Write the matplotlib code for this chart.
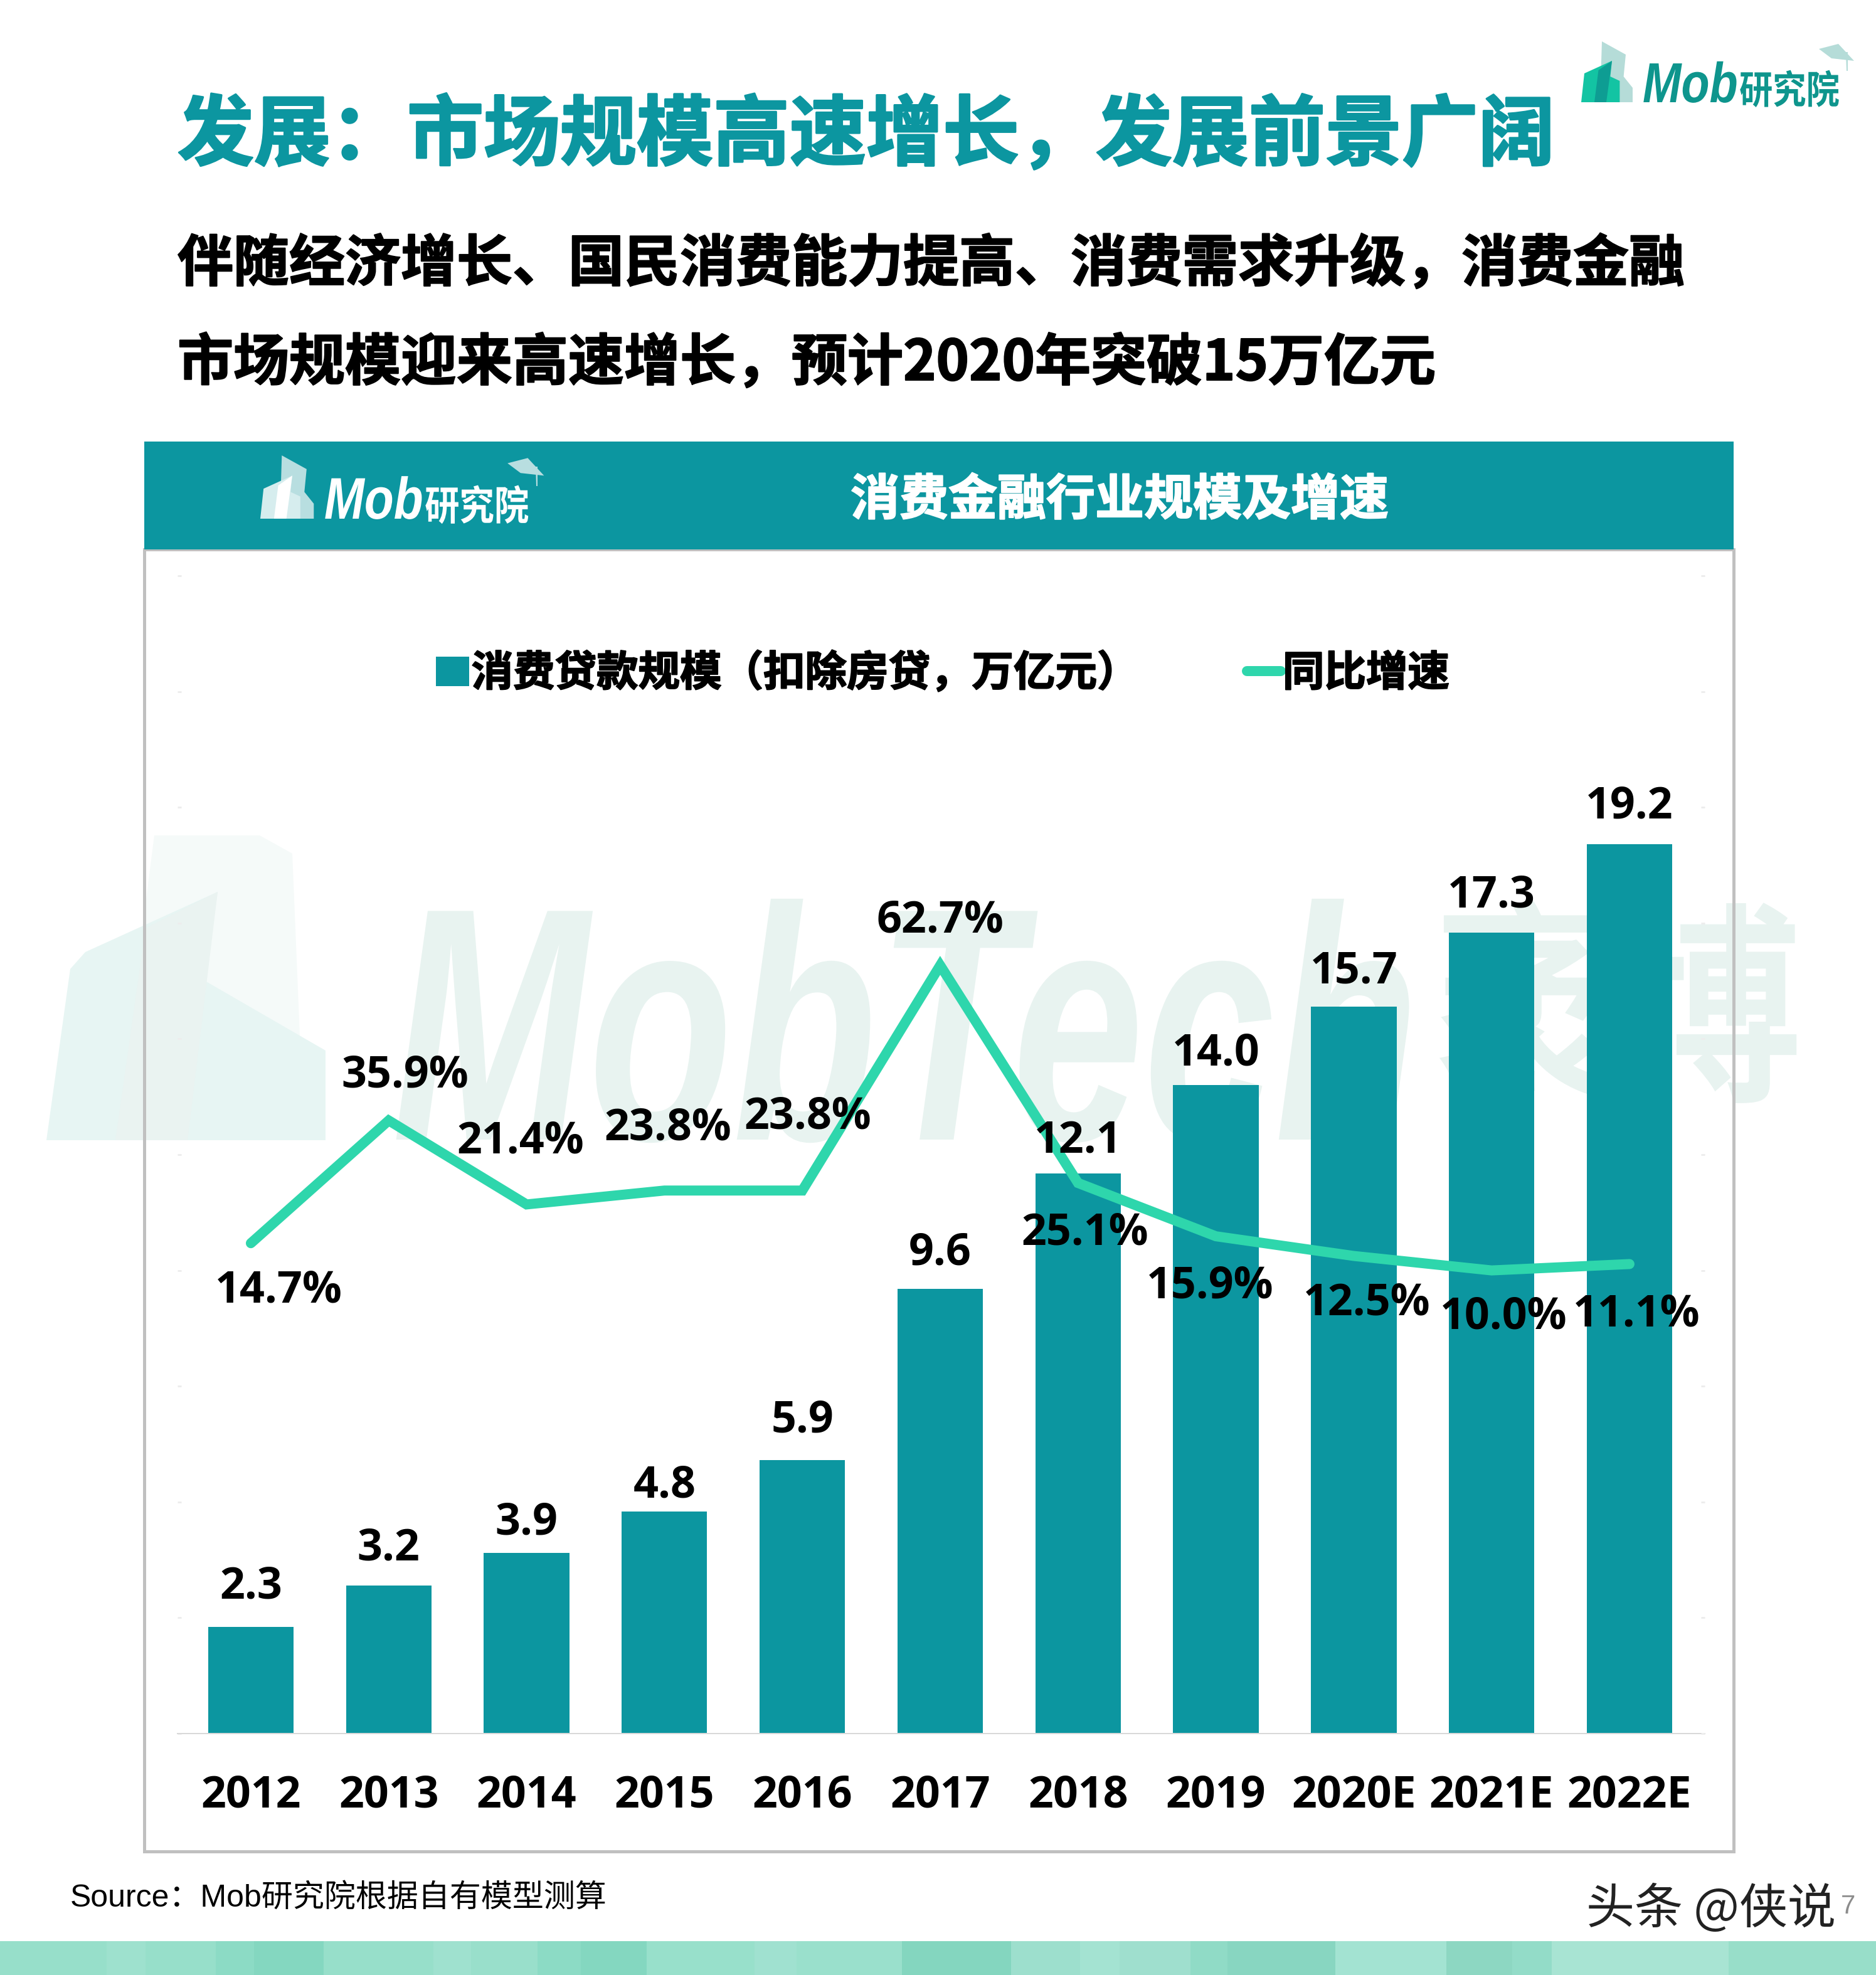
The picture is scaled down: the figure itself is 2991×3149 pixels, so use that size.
import matplotlib
matplotlib.use("Agg")
import matplotlib.pyplot as plt
from matplotlib.lines import Line2D
from matplotlib.patches import Patch, Polygon, Rectangle
from matplotlib.patheffects import AbstractPathEffect, withStroke
from matplotlib.transforms import Affine2D

# Datos
anios = ["2012", "2013", "2014", "2015", "2016", "2017", "2018", "2019", "2020E", "2021E", "2022E"]
escala = [2.3, 3.2, 3.9, 4.8, 5.9, 9.6, 12.1, 14.0, 15.7, 17.3, 19.2]
crecimiento = [14.7, 35.9, 21.4, 23.8, 23.8, 62.7, 25.1, 15.9, 12.5, 10.0, 11.1]

# Textos (signos de ancho completo escritos con su codigo)
titulo = "发展\uff1a市场规模高速增长\uff0c发展前景广阔"
subtitulo_1 = "伴随经济增长、国民消费能力提高、消费需求升级\uff0c消费金融"
subtitulo_2 = "市场规模迎来高速增长\uff0c预计2020年突破15万亿元"
titulo_grafico = "消费金融行业规模及增速"
leyenda_barras = "消费贷款规模\uff08扣除房贷\uff0c万亿元\uff09"
leyenda_linea = "同比增速"
fuente = "Source\uff1aMob研究院根据自有模型测算"

# Colores y tamaño
TEAL = "#0c96a0"
VERDE = "#2ed6ac"
ANCHO, ALTO = 2991, 3149
DPI = 100
CJK = ["Noto Sans CJK SC", "DejaVu Sans"]
LATINA = ["Open Sans", "Noto Sans CJK SC"]

# Desplazamiento de etiquetas en puntos
despl_pct = [(32, -55), (19, 51), (-7, 72), (4, 71), (6, 84), (0, 51), (8, -58), (-7, -58), (15, -55), (14, -54), (8, -58)]
despl_barras = [46, 42, 34, 29, 45, 41, 37, 36, 40, 42, 43]

# Franja inferior: (inicio, fin, color)
franja = [
    (0, 170, "#97dfca"), (170, 232, "#9ee1ce"), (232, 344, "#97dfca"), (344, 405, "#8cdbc5"),
    (405, 516, "#84d7c0"), (516, 691, "#97dfca"), (691, 751, "#9fe1cf"), (751, 857, "#99dfcb"),
    (857, 926, "#8cdbc5"), (926, 1031, "#84d7c0"), (1031, 1203, "#98e0cb"), (1203, 1270, "#a0e1d0"),
    (1270, 1438, "#9ae0cc"), (1438, 1612, "#84d6bf"), (1612, 1722, "#9ddfcd"), (1722, 1785, "#a4e3d2"),
    (1785, 1898, "#9fdfce"), (1898, 1957, "#90dbc6"), (1957, 2129, "#88d6c1"), (2129, 2306, "#a3e3d2"),
    (2306, 2411, "#8dd7c2"), (2411, 2474, "#93dcc8"), (2474, 2756, "#a8e4d3"), (2756, 2991, "#98dec9"),
]

fig = plt.figure(figsize=(ANCHO / DPI, ALTO / DPI), dpi=DPI, facecolor="white")


def pt(px):
    # pixeles a puntos
    return px * 72 / DPI


class Estrecho(AbstractPathEffect):
    # comprime el texto en horizontal, la fuente original es mas estrecha
    def __init__(self, sx, x0):
        self.sx = sx
        self.x0 = x0

    def draw_path(self, renderer, gc, tpath, affine, rgbFace=None):
        t = affine + Affine2D().translate(-self.x0, 0).scale(self.sx, 1).translate(self.x0, 0)
        renderer.draw_path(gc, tpath, t, rgbFace)


# Capa de fondo en coordenadas de pixel
fondo = fig.add_axes([0, 0, 1, 1], zorder=0)
fondo.set_xlim(0, ANCHO)
fondo.set_ylim(ALTO, 0)
fondo.axis("off")


def poligono(puntos, color, z=1):
    fondo.add_patch(Polygon(puntos, closed=True, facecolor=color, edgecolor="none", zorder=z))


# Marca de agua
poligono([(246, 1332), (414, 1332), (466, 1361), (480, 1700), (519, 1818), (184, 1818)], "#f5faf9")
poligono([(74, 1818), (112, 1545), (136, 1518), (347, 1422), (327, 1564), (519, 1675), (519, 1818)], "#e7f5f3")
poligono([(184, 1818), (232, 1480), (347, 1422), (299, 1818)], "#eaf3f1")
fondo.text(625, 1817, "MobTech", fontsize=pt(530), family=["Liberation Sans"], style="italic", weight="bold",
           color="#e8f3f0", va="baseline", ha="left", zorder=1, path_effects=[Estrecho(0.71, 625)])
fondo.text(2580, 1630, "袤博", fontsize=pt(340), family=CJK, weight="bold", color="#e8f3f0",
           va="center", ha="center", zorder=1, path_effects=[Estrecho(0.86, 2580)])

# Marco y cabecera del grafico
fondo.add_patch(Rectangle((230, 876), 2534, 2076, facecolor="none", edgecolor="#c0c0c0", linewidth=pt(5), zorder=2))
fondo.add_patch(Rectangle((230, 704), 2534, 172, facecolor=TEAL, edgecolor="none", zorder=3))

# Franja inferior
for x0, x1, color in franja:
    fondo.add_patch(Rectangle((x0, 3095), x1 - x0, 54, facecolor=color, edgecolor="none", zorder=2))


def logo(x0, y0, esc, c_atras, c_frente, c_medio, c_gorro, c_texto):
    def p(lista):
        return [(x0 + dx * esc, y0 - dy * esc) for dx, dy in lista]

    poligono(p([(33, 97), (71, 76), (67.6, 41), (82, 23), (82, 0), (30, 0)]), c_atras, 4)
    poligono(p([(0, 0), (5, 46), (49, 66), (46.4, 41), (61.4, 34), (61.4, 0)]), c_frente, 5)
    poligono(p([(21, 0), (27.5, 51), (49, 66), (40, 0)]), c_medio, 6)
    poligono(p([(379, 85), (410, 93), (435, 66), (399, 70)]), c_gorro, 4)
    poligono(p([(422, 80), (425, 80), (425, 50), (423, 50)]), c_gorro, 4)
    x_mob = x0 + 98 * esc
    fondo.text(x_mob, y0, "Mob", fontsize=pt(90 * esc), family=["Liberation Sans"], style="italic", weight="bold",
               color=c_texto, va="baseline", ha="left", zorder=6, path_effects=[Estrecho(0.82, x_mob)])
    x_cjk = x0 + 252 * esc
    fondo.text(x_cjk, y0 + 2, "研究院", fontsize=pt(62 * esc), family=CJK, weight="bold", color=c_texto,
               va="baseline", ha="left", zorder=6, path_effects=[Estrecho(0.86, x_cjk)])


logo(2521, 163, 1.0, "#b5dcd8", "#13c4a3", "#0e9d93", "#b5dcd8", "#0e958d")
logo(415, 827, 1.04, "#b8dee0", "#d6edee", "#ffffff", "#b8dee0", "#ffffff")

# Titulos, con trazo para acercarse al grosor del original
fondo.text(283, 218, titulo, fontsize=pt(122), family=CJK, weight="bold", color=TEAL, va="center", ha="left", zorder=5,
           path_effects=[withStroke(linewidth=pt(3), foreground=TEAL)])
for y, sub in [(422, subtitulo_1), (580, subtitulo_2)]:
    fondo.text(283, y, sub, fontsize=pt(89), family=CJK, weight="bold", color="black", va="center", ha="left", zorder=5,
               path_effects=[withStroke(linewidth=pt(2), foreground="black")])
fondo.text(1785, 798, titulo_grafico, fontsize=pt(78), family=CJK, weight="bold", color="white", va="center", ha="center", zorder=5,
           path_effects=[withStroke(linewidth=pt(2), foreground="white")])

# Pie
fondo.text(112, 3026, fuente, fontsize=pt(50), family=["Liberation Sans", "Noto Sans CJK SC"], color="black", va="center", ha="left", zorder=5)
fondo.text(2529, 3045, "头条 @侠说", fontsize=pt(77), family=CJK, color="#222222", va="center", ha="left", zorder=5)
fondo.text(2935, 3040, "7", fontsize=pt(42), family=["Liberation Sans"], color="#8c8c8c", va="center", ha="left", zorder=5)

# Grafico de barras
ax = fig.add_axes([283 / ANCHO, 1 - 2764 / ALTO, (2718 - 283) / ANCHO, (2764 - 918) / ALTO], zorder=2)
ax.patch.set_alpha(0)
x = list(range(len(anios)))
ax.bar(x, escala, width=0.62, color=TEAL, zorder=2)
ax.set_xlim(-0.532, 10.546)
ax.set_ylim(0, 25)
ax.set_yticks([i * 2.5 for i in range(11)])
ax.set_xticks(x)
ax.set_xticklabels(anios, fontsize=pt(70), family=LATINA, weight="bold", color="black")
ax.tick_params(axis="x", length=0, pad=pt(64))
ax.tick_params(axis="y", direction="in", length=pt(6), width=pt(3), color="#ededed", labelleft=False)
for lado in ["top", "left", "right"]:
    ax.spines[lado].set_visible(False)
ax.spines["bottom"].set_color("#d9d9d9")
ax.spines["bottom"].set_linewidth(pt(2))

# Linea de crecimiento en el eje secundario
ax2 = ax.twinx()
ax2.set_zorder(3)
ax2.patch.set_alpha(0)
ax2.plot(x, crecimiento, color=VERDE, linewidth=pt(16), solid_joinstyle="miter", solid_capstyle="round", zorder=3)
ax2.set_ylim(-70, 130)
ax2.set_yticks([-70 + i * 20 for i in range(11)])
ax2.tick_params(axis="y", direction="in", length=pt(6), width=pt(3), color="#ededed", labelright=False)
for lado in ["top", "left", "right", "bottom"]:
    ax2.spines[lado].set_visible(False)

# Etiquetas de datos
for xi, v, dy in zip(x, escala, despl_barras):
    ax2.annotate(f"{v:.1f}", (xi, v), xycoords=ax.transData, xytext=(0, dy), textcoords="offset points",
                 ha="center", va="center", fontsize=pt(70), family=LATINA, weight="bold", color="black", zorder=5)
for xi, v, (dx, dy) in zip(x, crecimiento, despl_pct):
    ax2.annotate(f"{v:.1f}%", (xi, v), xytext=(dx, dy), textcoords="offset points",
                 ha="center", va="center", fontsize=pt(70), family=LATINA, weight="bold", color="black", zorder=5)

# Leyenda
manejadores = [
    Patch(facecolor=TEAL, edgecolor="none", label=leyenda_barras),
    Line2D([0], [0], color=VERDE, linewidth=pt(16), solid_capstyle="round", label=leyenda_linea),
]
leyenda = ax2.legend(handles=manejadores, loc="center", bbox_to_anchor=(1503 / ANCHO, 1 - 1074 / ALTO),
                     bbox_transform=fig.transFigure, ncols=2, frameon=False, handlelength=0.8, handletextpad=0.05,
                     columnspacing=2.6, prop={"family": CJK, "weight": "bold", "size": pt(66.5)})
for t in leyenda.get_texts():
    t.set_path_effects([withStroke(linewidth=pt(2), foreground="black")])

fig.savefig("out.png", dpi=DPI)
